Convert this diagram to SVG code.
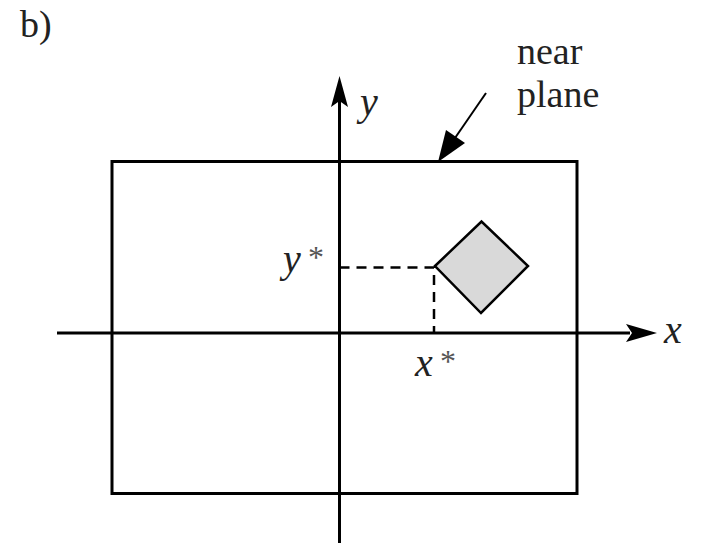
<svg xmlns="http://www.w3.org/2000/svg" width="705" height="544" viewBox="0 0 705 544">
<style>
.ln{stroke:#000;stroke-width:3;fill:none}
.dash{stroke:#000;stroke-width:2.5;fill:none;stroke-dasharray:10,7}
.t{font-family:'Liberation Serif','DejaVu Serif','Times New Roman',serif;font-size:38px;fill:#222}
.m{font-family:'Liberation Serif','DejaVu Serif','Times New Roman',serif;font-style:italic;font-size:40px;fill:#222}
.s{font-family:'Liberation Serif','DejaVu Serif','Times New Roman',serif;font-size:32px;fill:#555}
</style>
<rect width="705" height="544" fill="#fff"/>
<text class="t" x="20" y="37">b)</text>
<g id="connectors">
<line class="ln" x1="339.5" y1="543" x2="339.5" y2="100"/>
<polygon points="339.5,76 331,107 339.5,101 348,107" fill="#000"/>
<line class="ln" x1="57" y1="333" x2="630" y2="333"/>
<polygon points="657,333 626,324 632,333 626,342" fill="#000"/>
<line x1="486" y1="93" x2="455" y2="138" stroke="#000" stroke-width="2"/>
<polygon points="438,162 446,130 465,143" fill="#000"/>
<polyline class="dash" points="339.5,267.5 434,267.5 434,333"/>
</g>
<g id="near-plane">
<rect class="ln" x="112" y="161.5" width="465" height="332"/>
<text class="t" x="517" y="64">near</text>
<text class="t" x="517" y="107">plane</text>
</g>
<g id="object">
<polygon points="435,266 481.5,221.5 528,266 481,313" fill="#d9d9d9" stroke="#000" stroke-width="2.5"/>
</g>
<g id="labels">
<text class="m" x="360" y="115">y</text>
<text class="m" x="664" y="343">x</text>
<text class="m" x="283" y="272">y</text>
<text class="s" x="308" y="268">*</text>
<text class="m" x="415" y="376">x</text>
<text class="s" x="440" y="372">*</text>
</g>
</svg>
